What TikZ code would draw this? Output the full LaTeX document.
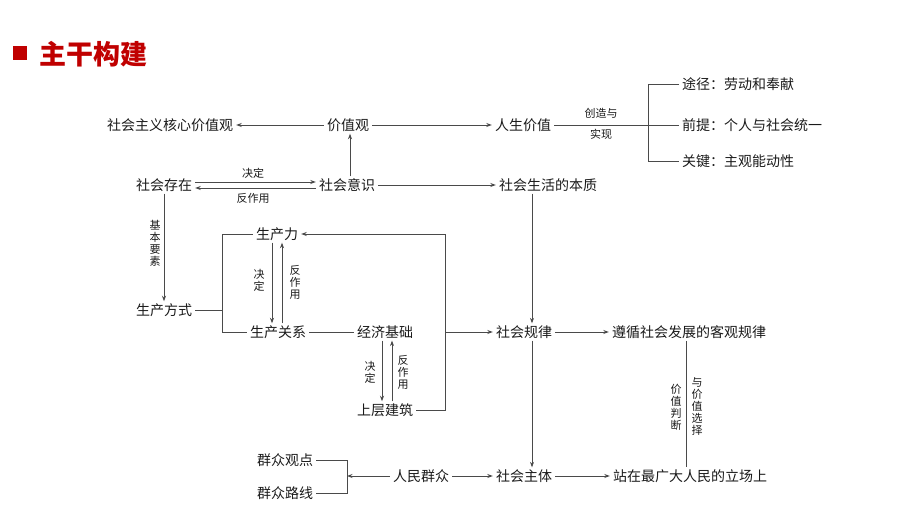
\documentclass[tikz,border=0pt]{standalone}
\usepackage{fontspec}
\setmainfont{Noto Sans CJK SC}
\newfontfamily\cjk{Noto Sans CJK SC}
\usetikzlibrary{arrows.meta}
\definecolor{titlered}{HTML}{C00000}
\definecolor{txt}{HTML}{1A1A1A}
\definecolor{ln}{HTML}{4A4A4A}
\begin{document}
\begin{tikzpicture}[x=1pt,y=-1pt,
  box/.style={text=txt,inner xsep=3pt,inner ysep=2pt,font=\cjk\fontsize{14}{14}\selectfont},
  lbl/.style={text=txt,inner sep=0pt,font=\cjk\fontsize{11}{11}\selectfont},
  vlbl/.style={text=txt,inner sep=0pt,align=center,font=\cjk\fontsize{11}{12}\selectfont},
  lin/.style={draw=ln,line width=0.8pt},
  arr/.style={lin,-{Stealth[length=5.5pt,width=4pt]}}]
\useasboundingbox (0,0) rectangle (920,518);
% title
\fill[titlered] (13,46) rectangle (27,60);
\node[anchor=west,inner sep=0pt,text=titlered,font=\cjk\bfseries\fontsize{27}{27}\selectfont] (title) at (39,54) {主干构建};
% nodes
\node[box] (hx) at (170,125) {社会主义核心价值观};
\node[box] (jzg) at (348,125) {价值观};
\node[box] (rs) at (523,125) {人生价值};
\node[box,anchor=west] (tj) at (679,84) {途径：劳动和奉献};
\node[box,anchor=west] (qt) at (679,125) {前提：个人与社会统一};
\node[box,anchor=west] (gj) at (679,161) {关键：主观能动性};
\node[box] (cz) at (164,185) {社会存在};
\node[box] (ys) at (347,185) {社会意识};
\node[box] (bz) at (548,185) {社会生活的本质};
\node[box] (fs) at (164,310) {生产方式};
\node[box] (scl) at (277,234) {生产力};
\node[box] (gx) at (278,332) {生产关系};
\node[box] (jj) at (385,332) {经济基础};
\node[box] (sc) at (385,410) {上层建筑};
\node[box] (gl) at (524,332) {社会规律};
\node[box] (zx) at (689,332) {遵循社会发展的客观规律};
\node[box] (gd) at (285,460) {群众观点};
\node[box] (lx) at (285,493) {群众路线};
\node[box] (rm) at (421,476) {人民群众};
\node[box] (zt) at (524,476) {社会主体};
\node[box] (zz) at (690,476) {站在最广大人民的立场上};
% coordinates
\coordinate (xa) at (532,0);
\coordinate (xb) at (350,0);
\coordinate (br1) at (648,0);
\coordinate (br2) at (222,0);
\coordinate (br3) at (445,0);
\coordinate (br4) at (347,0);
\coordinate (xz) at (686,0);
% top row
\draw[arr] (jzg.west) -- (hx.east);
\draw[arr] (jzg.east) -- (rs.west);
\draw[lin] (rs.east) -- (qt.west);
\draw[lin] (tj.west) -- (tj.west -| br1) -- (gj.west -| br1) -- (gj.west);
\node[lbl] (cz1) at (601,113) {创造与};
\node[lbl] (sx1) at (601,134) {实现};
% second row
\draw[arr] ([yshift=3pt]cz.east) -- ([yshift=3pt]ys.west);
\draw[arr] ([yshift=-3pt]ys.west) -- ([yshift=-3pt]cz.east);
\node[lbl] (jd1) at (253,173) {决定};
\node[lbl] (fzy1) at (253,198) {反作用};
\draw[arr] (ys.north -| xb) -- (jzg.south -| xb);
\draw[arr] (ys.east) -- (bz.west);
\draw[arr] (bz.south -| xa) -- (gl.north -| xa);
% left column
\draw[arr] (cz.south) -- (fs.north);
\node[vlbl] (jbys) at (155,243) {基\\本\\要\\素};
\draw[lin] (fs.east) -- (fs.east -| br2);
\draw[lin] (scl.west) -| (gx.west -| br2) -- (gx.west);
\draw[arr] ([xshift=-5pt]scl.south) -- ([xshift=-6pt]gx.north);
\draw[arr] ([xshift=4pt]gx.north) -- ([xshift=5pt]scl.south);
\node[vlbl] (jd2) at (259,280) {决\\定};
\node[vlbl] (fzy2) at (295,282) {反\\作\\用};
\draw[lin] (gx.east) -- (jj.west);
\draw[arr] ([xshift=-3pt]jj.south) -- ([xshift=-3pt]sc.north);
\draw[arr] ([xshift=7pt]sc.north) -- ([xshift=7pt]jj.south);
\node[vlbl] (jd3) at (370,372) {决\\定};
\node[vlbl] (fzy3) at (403,372) {反\\作\\用};
\draw[lin] (sc.east) -- (sc.east -| br3) -- (scl.east -| br3);
\draw[arr] (scl.east -| br3) -- (scl.east);
\draw[arr] (gl.west -| br3) -- (gl.west);
\draw[arr] (gl.east) -- (zx.west);
\draw[arr] (gl.south -| xa) -- (zt.north -| xa);
\draw[lin] (zx.south -| xz) -- (zz.north -| xz);
\node[vlbl] (jzpd) at (676,407) {价\\值\\判\\断};
\node[vlbl] (yjz) at (697,406) {与\\价\\值\\选\\择};
% bottom row
\draw[lin] (gd.east) -| (lx.east -| br4) -- (lx.east);
\draw[arr] (rm.west) -- (rm.west -| br4);
\draw[arr] (rm.east) -- (zt.west);
\draw[arr] (zt.east) -- (zz.west);
\end{tikzpicture}
\end{document}
